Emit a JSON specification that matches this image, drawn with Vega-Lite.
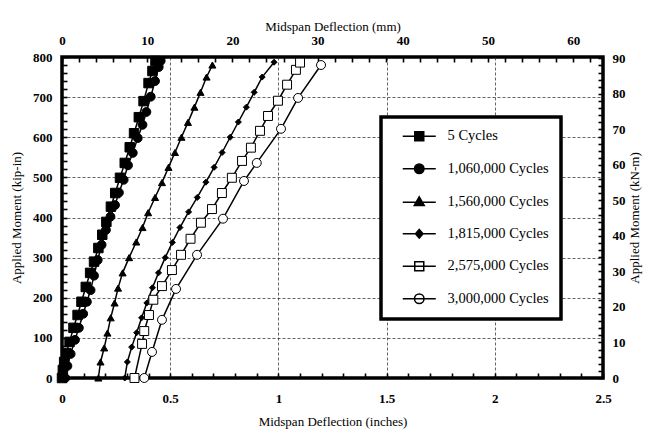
{
  "$schema": "https://vega.github.io/schema/vega-lite/v6.json",
  "width": 541,
  "height": 321,
  "autosize": {"type": "none"},
  "padding": {"left": 62, "top": 57, "right": 45, "bottom": 56},
  "background": "white",
  "config": {
    "font": "Liberation Serif",
    "view": {"stroke": "black", "strokeWidth": 3.5},
    "axis": {
      "domain": false,
      "tickColor": "black",
      "tickWidth": 1.6,
      "tickSize": -5,
      "labelColor": "black",
      "labelFont": "Liberation Serif",
      "labelFontSize": 13,
      "labelFontWeight": "bold",
      "labelOverlap": false,
      "labelFlush": false,
      "titleColor": "black",
      "titleFont": "Liberation Serif",
      "titleFontSize": 13,
      "titleFontWeight": "normal",
      "gridColor": "#222222",
      "gridWidth": 0.7,
      "gridDash": [3, 2]
    },
    "legend": {"strokeWidth": 3.5}
  },
  "data": {
    "values": [
      {"s": "5 Cycles", "x": 0, "m": 0},
      {"s": "5 Cycles", "x": 0.004, "m": 20},
      {"s": "5 Cycles", "x": 0.010, "m": 40},
      {"s": "5 Cycles", "x": 0.020, "m": 62},
      {"s": "5 Cycles", "x": 0.035, "m": 90},
      {"s": "5 Cycles", "x": 0.053, "m": 125},
      {"s": "5 Cycles", "x": 0.072, "m": 157},
      {"s": "5 Cycles", "x": 0.090, "m": 190},
      {"s": "5 Cycles", "x": 0.110, "m": 227},
      {"s": "5 Cycles", "x": 0.130, "m": 262},
      {"s": "5 Cycles", "x": 0.148, "m": 290},
      {"s": "5 Cycles", "x": 0.168, "m": 324},
      {"s": "5 Cycles", "x": 0.186, "m": 357},
      {"s": "5 Cycles", "x": 0.205, "m": 389},
      {"s": "5 Cycles", "x": 0.226, "m": 427},
      {"s": "5 Cycles", "x": 0.246, "m": 461},
      {"s": "5 Cycles", "x": 0.268, "m": 499},
      {"s": "5 Cycles", "x": 0.290, "m": 536},
      {"s": "5 Cycles", "x": 0.313, "m": 575},
      {"s": "5 Cycles", "x": 0.333, "m": 610},
      {"s": "5 Cycles", "x": 0.355, "m": 650},
      {"s": "5 Cycles", "x": 0.377, "m": 690},
      {"s": "5 Cycles", "x": 0.400, "m": 735},
      {"s": "5 Cycles", "x": 0.418, "m": 765},
      {"s": "5 Cycles", "x": 0.432, "m": 790},
      {"s": "1,060,000 Cycles", "x": 0.015, "m": 0},
      {"s": "1,060,000 Cycles", "x": 0.025, "m": 30},
      {"s": "1,060,000 Cycles", "x": 0.040, "m": 60},
      {"s": "1,060,000 Cycles", "x": 0.060, "m": 95},
      {"s": "1,060,000 Cycles", "x": 0.078, "m": 125},
      {"s": "1,060,000 Cycles", "x": 0.098, "m": 160},
      {"s": "1,060,000 Cycles", "x": 0.115, "m": 190},
      {"s": "1,060,000 Cycles", "x": 0.132, "m": 219},
      {"s": "1,060,000 Cycles", "x": 0.148, "m": 255},
      {"s": "1,060,000 Cycles", "x": 0.165, "m": 294},
      {"s": "1,060,000 Cycles", "x": 0.183, "m": 332},
      {"s": "1,060,000 Cycles", "x": 0.203, "m": 369},
      {"s": "1,060,000 Cycles", "x": 0.224, "m": 402},
      {"s": "1,060,000 Cycles", "x": 0.245, "m": 431},
      {"s": "1,060,000 Cycles", "x": 0.263, "m": 462},
      {"s": "1,060,000 Cycles", "x": 0.285, "m": 494},
      {"s": "1,060,000 Cycles", "x": 0.305, "m": 530},
      {"s": "1,060,000 Cycles", "x": 0.327, "m": 561},
      {"s": "1,060,000 Cycles", "x": 0.350, "m": 598},
      {"s": "1,060,000 Cycles", "x": 0.372, "m": 631},
      {"s": "1,060,000 Cycles", "x": 0.390, "m": 663},
      {"s": "1,060,000 Cycles", "x": 0.410, "m": 701},
      {"s": "1,060,000 Cycles", "x": 0.430, "m": 740},
      {"s": "1,060,000 Cycles", "x": 0.447, "m": 775},
      {"s": "1,060,000 Cycles", "x": 0.455, "m": 790},
      {"s": "1,560,000 Cycles", "x": 0.168, "m": 0},
      {"s": "1,560,000 Cycles", "x": 0.178, "m": 40},
      {"s": "1,560,000 Cycles", "x": 0.195, "m": 75},
      {"s": "1,560,000 Cycles", "x": 0.210, "m": 112},
      {"s": "1,560,000 Cycles", "x": 0.225, "m": 150},
      {"s": "1,560,000 Cycles", "x": 0.243, "m": 187},
      {"s": "1,560,000 Cycles", "x": 0.259, "m": 224},
      {"s": "1,560,000 Cycles", "x": 0.280, "m": 262},
      {"s": "1,560,000 Cycles", "x": 0.310, "m": 300},
      {"s": "1,560,000 Cycles", "x": 0.343, "m": 339},
      {"s": "1,560,000 Cycles", "x": 0.372, "m": 375},
      {"s": "1,560,000 Cycles", "x": 0.398, "m": 412},
      {"s": "1,560,000 Cycles", "x": 0.430, "m": 450},
      {"s": "1,560,000 Cycles", "x": 0.462, "m": 487},
      {"s": "1,560,000 Cycles", "x": 0.492, "m": 525},
      {"s": "1,560,000 Cycles", "x": 0.522, "m": 562},
      {"s": "1,560,000 Cycles", "x": 0.552, "m": 600},
      {"s": "1,560,000 Cycles", "x": 0.582, "m": 637},
      {"s": "1,560,000 Cycles", "x": 0.612, "m": 675},
      {"s": "1,560,000 Cycles", "x": 0.640, "m": 712},
      {"s": "1,560,000 Cycles", "x": 0.668, "m": 750},
      {"s": "1,560,000 Cycles", "x": 0.695, "m": 780},
      {"s": "1,815,000 Cycles", "x": 0.290, "m": 0},
      {"s": "1,815,000 Cycles", "x": 0.302, "m": 40},
      {"s": "1,815,000 Cycles", "x": 0.322, "m": 77},
      {"s": "1,815,000 Cycles", "x": 0.345, "m": 113},
      {"s": "1,815,000 Cycles", "x": 0.368, "m": 150},
      {"s": "1,815,000 Cycles", "x": 0.392, "m": 187},
      {"s": "1,815,000 Cycles", "x": 0.418, "m": 225},
      {"s": "1,815,000 Cycles", "x": 0.446, "m": 262},
      {"s": "1,815,000 Cycles", "x": 0.477, "m": 300},
      {"s": "1,815,000 Cycles", "x": 0.510, "m": 338},
      {"s": "1,815,000 Cycles", "x": 0.545, "m": 375},
      {"s": "1,815,000 Cycles", "x": 0.585, "m": 414},
      {"s": "1,815,000 Cycles", "x": 0.625, "m": 450},
      {"s": "1,815,000 Cycles", "x": 0.665, "m": 488},
      {"s": "1,815,000 Cycles", "x": 0.703, "m": 525},
      {"s": "1,815,000 Cycles", "x": 0.740, "m": 562},
      {"s": "1,815,000 Cycles", "x": 0.777, "m": 600},
      {"s": "1,815,000 Cycles", "x": 0.815, "m": 638},
      {"s": "1,815,000 Cycles", "x": 0.852, "m": 675},
      {"s": "1,815,000 Cycles", "x": 0.888, "m": 712},
      {"s": "1,815,000 Cycles", "x": 0.925, "m": 750},
      {"s": "1,815,000 Cycles", "x": 0.980, "m": 787},
      {"s": "2,575,000 Cycles", "x": 0.335, "m": 0},
      {"s": "2,575,000 Cycles", "x": 0.370, "m": 85},
      {"s": "2,575,000 Cycles", "x": 0.380, "m": 117},
      {"s": "2,575,000 Cycles", "x": 0.402, "m": 157},
      {"s": "2,575,000 Cycles", "x": 0.422, "m": 195},
      {"s": "2,575,000 Cycles", "x": 0.462, "m": 229},
      {"s": "2,575,000 Cycles", "x": 0.508, "m": 269},
      {"s": "2,575,000 Cycles", "x": 0.550, "m": 307},
      {"s": "2,575,000 Cycles", "x": 0.594, "m": 347},
      {"s": "2,575,000 Cycles", "x": 0.642, "m": 387},
      {"s": "2,575,000 Cycles", "x": 0.693, "m": 421},
      {"s": "2,575,000 Cycles", "x": 0.739, "m": 461},
      {"s": "2,575,000 Cycles", "x": 0.785, "m": 499},
      {"s": "2,575,000 Cycles", "x": 0.832, "m": 541},
      {"s": "2,575,000 Cycles", "x": 0.873, "m": 574},
      {"s": "2,575,000 Cycles", "x": 0.915, "m": 616},
      {"s": "2,575,000 Cycles", "x": 0.952, "m": 653},
      {"s": "2,575,000 Cycles", "x": 0.998, "m": 691},
      {"s": "2,575,000 Cycles", "x": 1.040, "m": 731},
      {"s": "2,575,000 Cycles", "x": 1.081, "m": 768},
      {"s": "2,575,000 Cycles", "x": 1.100, "m": 786},
      {"s": "3,000,000 Cycles", "x": 0.380, "m": 0},
      {"s": "3,000,000 Cycles", "x": 0.416, "m": 65},
      {"s": "3,000,000 Cycles", "x": 0.462, "m": 145},
      {"s": "3,000,000 Cycles", "x": 0.527, "m": 222},
      {"s": "3,000,000 Cycles", "x": 0.624, "m": 307},
      {"s": "3,000,000 Cycles", "x": 0.744, "m": 397},
      {"s": "3,000,000 Cycles", "x": 0.841, "m": 491},
      {"s": "3,000,000 Cycles", "x": 0.900, "m": 536},
      {"s": "3,000,000 Cycles", "x": 1.012, "m": 621},
      {"s": "3,000,000 Cycles", "x": 1.091, "m": 698},
      {"s": "3,000,000 Cycles", "x": 1.197, "m": 780}
    ]
  },
  "layer": [
    {
      "mark": {"type": "line", "color": "black", "strokeWidth": 1.5},
      "encoding": {
        "x": {
          "field": "x", "type": "quantitative",
          "scale": {"domain": [0, 2.5], "nice": false, "zero": false},
          "axis": {
            "orient": "bottom",
            "title": "Midspan Deflection (inches)",
            "values": [0, 0.1, 0.2, 0.3, 0.4, 0.5, 0.6, 0.7, 0.8, 0.9, 1, 1.1, 1.2, 1.3, 1.4, 1.5, 1.6, 1.7, 1.8, 1.9, 2, 2.1, 2.2, 2.3, 2.4, 2.5],
            "labelExpr": "round(datum.value*10) % 5 == 0 ? toString(round(datum.value*10)/10) : ''",
            "labelPadding": 19,
            "titlePadding": 10,
            "grid": true,
            "gridOpacity": {"condition": {"test": "round(datum.value*10) % 5 == 0 && datum.value > 0.01 && datum.value < 2.49", "value": 1}, "value": 0}
          }
        },
        "y": {
          "field": "m", "type": "quantitative",
          "scale": {"domain": [0, 800], "nice": false},
          "axis": {
            "orient": "left",
            "title": "Applied Moment (kip-in)",
            "values": [0, 20, 40, 60, 80, 100, 120, 140, 160, 180, 200, 220, 240, 260, 280, 300, 320, 340, 360, 380, 400, 420, 440, 460, 480, 500, 520, 540, 560, 580, 600, 620, 640, 660, 680, 700, 720, 740, 760, 780, 800],
            "labelExpr": "datum.value % 100 == 0 ? toString(datum.value) : ''",
            "labelPadding": 15,
            "titlePadding": 9,
            "grid": true,
            "gridOpacity": {"condition": {"test": "datum.value % 100 == 0 && datum.value > 0 && datum.value < 800", "value": 1}, "value": 0}
          }
        },
        "detail": {"field": "s", "type": "nominal"},
        "order": {"field": "m", "type": "quantitative"}
      }
    },
    {
      "mark": {"type": "point", "filled": true, "stroke": "black", "strokeWidth": 1.5, "size": 100, "opacity": 0},
      "encoding": {
        "x": {
          "field": "x", "type": "quantitative",
          "axis": {
            "orient": "top",
            "title": "Midspan Deflection (mm)",
            "values": [0, 0.07874, 0.15748, 0.23622, 0.31496, 0.3937, 0.47244, 0.55118, 0.62992, 0.70866, 0.7874, 0.86614, 0.94488, 1.02362, 1.10236, 1.1811, 1.25984, 1.33858, 1.41732, 1.49606, 1.5748, 1.65354, 1.73228, 1.81102, 1.88976, 1.9685, 2.04724, 2.12598, 2.20472, 2.28346, 2.3622, 2.44094],
            "labelExpr": "round(datum.value*25.4) % 10 == 0 ? toString(round(datum.value*25.4)) : ''",
            "labelPadding": 15,
            "titlePadding": 1,
            "grid": false
          }
        },
        "y": {
          "field": "m", "type": "quantitative",
          "axis": {
            "orient": "right",
            "title": "Applied Moment (kN-m)",
            "titleAngle": 270,
            "titlePadding": 16,
            "values": [0, 17.7015, 35.403, 53.1045, 70.806, 88.5075, 106.209, 123.9105, 141.612, 159.3135, 177.015, 194.7165, 212.418, 230.1195, 247.821, 265.5225, 283.224, 300.9255, 318.627, 336.3285, 354.03, 371.7315, 389.433, 407.1345, 424.836, 442.5375, 460.239, 477.9405, 495.642, 513.3435, 531.045, 548.7465, 566.448, 584.1495, 601.851, 619.5525, 637.254, 654.9555, 672.657, 690.3585, 708.06, 725.7615, 743.463, 761.1645, 778.866, 796.5675],
            "labelExpr": "round(datum.value/8.85075) % 10 == 0 ? toString(round(datum.value/8.85075)) : ''",
            "labelPadding": 14,
            "grid": false
          }
        },
        "shape": {
          "field": "s", "type": "nominal",
          "scale": {
            "domain": ["5 Cycles", "1,060,000 Cycles", "1,560,000 Cycles", "1,815,000 Cycles", "2,575,000 Cycles", "3,000,000 Cycles"],
            "range": [
              "M-3.3,0H3.3M-0.9,-0.9H0.9V0.9H-0.9Z",
              "M-3.3,0H3.3M0.95,0A0.95,0.95,0,1,1,-0.95,0A0.95,0.95,0,1,1,0.95,0Z",
              "M-3.3,0H3.3M0,-1.1L1,0.65L-1,0.65Z",
              "M-3.3,0H3.3M0,-0.85L0.75,0L0,0.85L-0.75,0Z",
              "M-3.3,0H3.3M-0.9,-0.9H0.9V0.9H-0.9Z",
              "M-3.3,0H3.3M0.95,0A0.95,0.95,0,1,1,-0.95,0A0.95,0.95,0,1,1,0.95,0Z"
            ]
          },
          "legend": {
            "title": null,
            "orient": "none",
            "legendX": 319,
            "legendY": 60,
            "strokeColor": "black",
            "fillColor": "white",
            "padding": 12,
            "rowPadding": 16.5,
            "symbolOffset": 19,
            "labelOffset": 21,
            "symbolSize": 100,
            "symbolOpacity": 1,
            "labelFont": "Liberation Serif",
            "labelFontSize": 14.5,
            "labelColor": "black",
            "labelExpr": "datum.label + '         '"
          }
        },
        "fill": {
          "field": "s", "type": "nominal",
          "scale": {
            "domain": ["5 Cycles", "1,060,000 Cycles", "1,560,000 Cycles", "1,815,000 Cycles", "2,575,000 Cycles", "3,000,000 Cycles"],
            "range": ["black", "black", "black", "black", "white", "white"]
          },
          "legend": {
            "title": null,
            "orient": "none",
            "legendX": 319,
            "legendY": 60,
            "strokeColor": "black",
            "fillColor": "white",
            "padding": 12,
            "rowPadding": 16.5,
            "symbolOffset": 19,
            "labelOffset": 21,
            "symbolSize": 100,
            "symbolOpacity": 1,
            "labelFont": "Liberation Serif",
            "labelFontSize": 14.5,
            "labelColor": "black",
            "labelExpr": "datum.label + '         '"
          }
        }
      }
    },
    {
      "transform": [{"filter": {"field": "s", "equal": "5 Cycles"}}],
      "mark": {"type": "point", "shape": "square", "filled": true, "fill": "black", "stroke": "black", "strokeWidth": 1, "size": 90, "opacity": 1},
      "encoding": {
        "x": {"field": "x", "type": "quantitative", "axis": null},
        "y": {"field": "m", "type": "quantitative", "axis": null}
      }
    },
    {
      "transform": [{"filter": {"field": "s", "equal": "1,060,000 Cycles"}}],
      "mark": {"type": "point", "shape": "circle", "filled": true, "fill": "black", "stroke": "black", "strokeWidth": 1, "size": 78, "opacity": 1},
      "encoding": {
        "x": {"field": "x", "type": "quantitative", "axis": null},
        "y": {"field": "m", "type": "quantitative", "axis": null}
      }
    },
    {
      "transform": [{"filter": {"field": "s", "equal": "1,560,000 Cycles"}}],
      "mark": {"type": "point", "shape": "triangle-up", "filled": true, "fill": "black", "stroke": "black", "strokeWidth": 1, "size": 50, "opacity": 1},
      "encoding": {
        "x": {"field": "x", "type": "quantitative", "axis": null},
        "y": {"field": "m", "type": "quantitative", "axis": null}
      }
    },
    {
      "transform": [{"filter": {"field": "s", "equal": "1,815,000 Cycles"}}],
      "mark": {"type": "point", "shape": "diamond", "filled": true, "fill": "black", "stroke": "black", "strokeWidth": 1, "size": 36, "opacity": 1},
      "encoding": {
        "x": {"field": "x", "type": "quantitative", "axis": null},
        "y": {"field": "m", "type": "quantitative", "axis": null}
      }
    },
    {
      "transform": [{"filter": {"field": "s", "equal": "2,575,000 Cycles"}}],
      "mark": {"type": "point", "shape": "square", "filled": true, "fill": "white", "stroke": "black", "strokeWidth": 1, "size": 80, "opacity": 1},
      "encoding": {
        "x": {"field": "x", "type": "quantitative", "axis": null},
        "y": {"field": "m", "type": "quantitative", "axis": null}
      }
    },
    {
      "transform": [{"filter": {"field": "s", "equal": "3,000,000 Cycles"}}],
      "mark": {"type": "point", "shape": "circle", "filled": true, "fill": "white", "stroke": "black", "strokeWidth": 1, "size": 80, "opacity": 1},
      "encoding": {
        "x": {"field": "x", "type": "quantitative", "axis": null},
        "y": {"field": "m", "type": "quantitative", "axis": null}
      }
    }
  ],
  "resolve": {"axis": {"x": "independent", "y": "independent"}}
}
